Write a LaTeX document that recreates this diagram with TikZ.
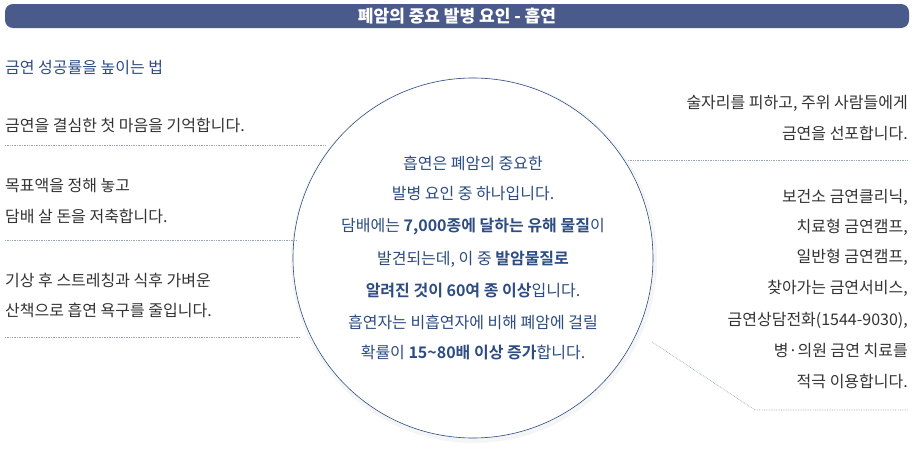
\documentclass[tikz,border=0pt]{standalone}
\usepackage{fontspec}
\setmainfont{Noto Sans CJK KR}
\newfontfamily\krb{Noto Sans CJK KR Bold}
\definecolor{hdr}{HTML}{4A5A8A}
\definecolor{ctxt}{HTML}{2C4C82}
\definecolor{gtxt}{HTML}{333333}
\definecolor{dots}{HTML}{9AA4B8}
\begin{document}
\begin{tikzpicture}[x=1pt,y=-1pt,
  body/.style={font=\fontsize{16}{30}\selectfont, text=gtxt, inner sep=0pt},
  lt/.style={body, anchor=west},
  rt/.style={body, anchor=east},
  ct/.style={body, text=ctxt},
  sep/.style={draw=dots, densely dotted, line width=0.7pt}]
\useasboundingbox (0,0) rectangle (914,474);
\fill[white] (0,0) rectangle (914,474);
\node[fill=hdr, rounded corners=8pt, minimum width=904pt, minimum height=24pt, inner sep=0pt, text=white, font=\fontsize{17}{18}\selectfont\bfseries] (hdr) at (457,16) {폐암의 중요 발병 요인 - 흡연};
% circle
\fill[black!4] (474,260) circle (183);
\node[circle, draw=ctxt, line width=0.6pt, fill=white, minimum size=360pt, inner sep=0pt] (c) at (473,258) {};
% separators
\coordinate (l1) at (5,145); \coordinate (l2) at (5,240); \coordinate (l3) at (5,337);
\coordinate (r1) at (908,160); \coordinate (r2a) at (755,410); \coordinate (r2) at (908,410);
\coordinate (e1) at (326,145); \coordinate (e2) at (296,240); \coordinate (e3) at (300,337);
\coordinate (e4) at (628,160); \coordinate (e5) at (652,342);
\draw[sep] (l1) -- (e1);
\draw[sep] (l2) -- (e2);
\draw[sep] (l3) -- (e3);
\draw[sep] (e4) -- (r1);
\draw[sep] (e5) -- (r2a) -- (r2);
% left texts
\node[lt, text=ctxt] (t0) at (5,68) {금연 성공률을 높이는 법};
\node[lt] (t1) at (5,125) {금연을 결심한 첫 마음을 기억합니다.};
\node[lt] (t2) at (5,186) {목표액을 정해 놓고};
\node[lt] (t3) at (5,216) {담배 살 돈을 저축합니다.};
\node[lt] (t4) at (5,280) {기상 후 스트레칭과 식후 가벼운};
\node[lt] (t5) at (5,310) {산책으로 흡연 욕구를 줄입니다.};
% right texts
\node[rt] (r01) at (908,103) {술자리를 피하고, 주위 사람들에게};
\node[rt] (r02) at (908,133) {금연을 선포합니다.};
\node[rt] (r11) at (908,197) {보건소 금연클리닉,};
\node[rt] (r12) at (908,227) {치료형 금연캠프,};
\node[rt] (r13) at (908,257) {일반형 금연캠프,};
\node[rt] (r14) at (908,288) {찾아가는 금연서비스,};
\node[rt] (r15) at (908,320) {금연상담전화(1544-9030),};
\node[rt] (r16) at (908,351) {병·의원 금연 치료를};
\node[rt] (r17) at (908,381) {적극 이용합니다.};
% centre text
\node[ct] (c1) at (473,163) {흡연은 폐암의 중요한};
\node[ct] (c2) at (473,194) {발병 요인 중 하나입니다.};
\node[ct] (c3) at (473,227) {담배에는 {\krb 7,000종에 달하는 유해 물질}이};
\node[ct] (c4) at (473,259) {발견되는데, 이 중 {\krb 발암물질로}};
\node[ct] (c5) at (473,291) {{\krb 알려진 것이 60여 종 이상}입니다.};
\node[ct] (c6) at (473,322) {흡연자는 비흡연자에 비해 폐암에 걸릴};
\node[ct] (c7) at (473,353) {확률이 {\krb 15\textasciitilde80배 이상 증가}합니다.};
\end{tikzpicture}
\end{document}
